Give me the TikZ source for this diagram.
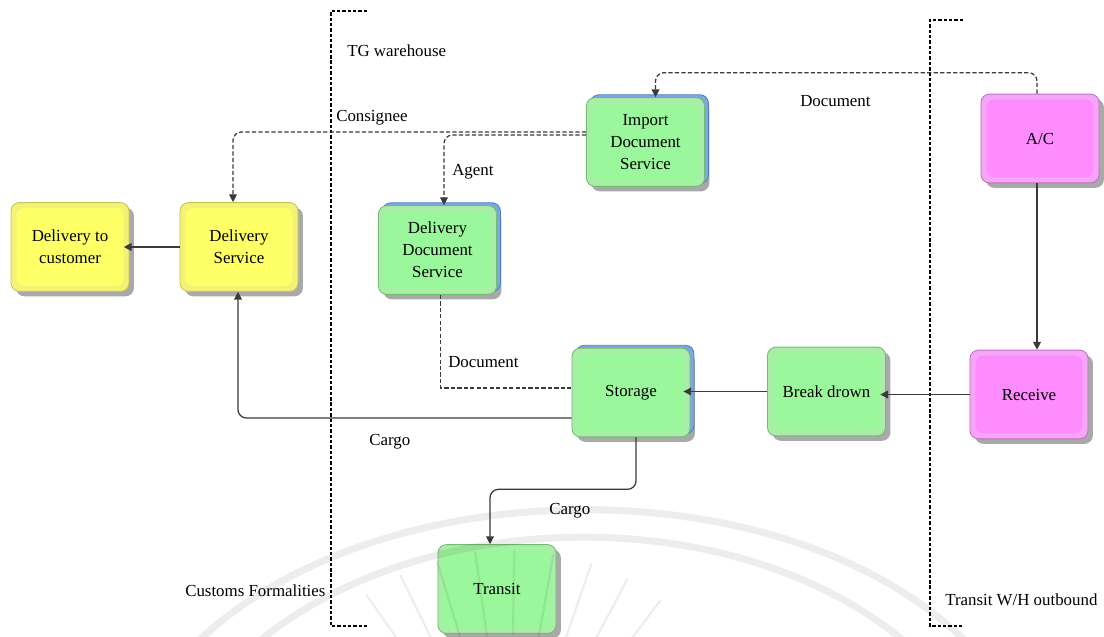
\documentclass[tikz,border=0pt]{standalone}
\usepackage{fontspec}
\setmainfont{Liberation Serif}
\usetikzlibrary{calc,shadows,arrows.meta}

\definecolor{yOut}{HTML}{F2F276}
\definecolor{yIn}{HTML}{FFFF66}
\definecolor{yLine}{HTML}{C4C455}
\definecolor{gOut}{HTML}{A9EDA9}
\definecolor{gIn}{HTML}{9BF79B}
\definecolor{gLine}{HTML}{6DBE6D}
\definecolor{pOut}{HTML}{F6A6F6}
\definecolor{pIn}{HTML}{FF8CFF}
\definecolor{pLine}{HTML}{BE6EBE}
\definecolor{bLayer}{HTML}{7FA6DE}
\definecolor{bLine}{HTML}{4F7FC2}
\definecolor{wire}{HTML}{3A3A3A}

\tikzset{
  procbox/.style n args={3}{
    draw=#3, fill=#1, line width=0.6pt, rounded corners=6pt,
    minimum width=2.95cm, minimum height=2.22cm, inner sep=0pt,
    align=center, font=\fontsize{12}{15.5}\selectfont,
    path picture={
      \fill[#2, rounded corners=5pt]
        ([shift={(4pt,4pt)}]path picture bounding box.south west) rectangle
        ([shift={(-4pt,-4pt)}]path picture bounding box.north east);
    },
    drop shadow={shadow xshift=3.5pt, shadow yshift=-3.5pt, fill=black!45, opacity=0.75}
  },
  yellowbox/.style={procbox={yOut}{yIn}{yLine}},
  greenbox/.style={procbox={gOut}{gIn}{gLine}},
  pinkbox/.style={procbox={pOut}{pIn}{pLine}},
  stackbox/.style={greenbox,
    copy shadow={shadow xshift=2.8pt, shadow yshift=2pt, fill=bLayer, draw=bLine}},
  flow/.style={draw=wire, line width=0.9pt, -{Triangle[length=5.5pt,width=5.5pt]}},
  dflow/.style={draw=wire, line width=0.9pt, dash pattern=on 3pt off 1.6pt,
    -{Triangle[length=5.5pt,width=5.5pt]}},
  dline/.style={draw=wire, line width=0.9pt, dash pattern=on 3pt off 1.6pt},
  zone/.style={draw=black, line width=0.9pt, dash pattern=on 2.4pt off 1.4pt},
  lbl/.style={anchor=base west, inner sep=0pt, font=\fontsize{12}{14}\selectfont},
}

\begin{document}
\begin{tikzpicture}[x=0.025cm, y=-0.025cm]
\useasboundingbox (0,0) rectangle (1104,637);

% zone brackets
\draw[zone] (367,11) -- (331,11) -- (331,626) -- (367,626);
\draw[zone] (963,20) -- (930,20) -- (930,626) -- (962,626);

% process steps
\node[yellowbox] (dc) at (70,247) {Delivery to\\customer};
\node[yellowbox] (ds) at (239,247) {Delivery\\Service};
\node[stackbox]  (dds) at (437.5,250) {Delivery\\Document\\Service};
\node[stackbox]  (ids) at (645.5,142) {Import\\Document\\Service};
\node[pinkbox]   (ac) at (1040,138.5) {A/C};
\node[pinkbox]   (rc) at (1029,394.5) {Receive};
\node[greenbox]  (bd) at (826.5,391.5) {Break drown};
\node[stackbox]  (st) at (631,392.5) {Storage};
\node[greenbox]  (tr) at (497,589) {Transit};

% document flows
\draw[dflow, rounded corners=6pt] ($(ac.north)+(-3,0)$) -- ++(0,-21) -| ($(ids.north)+(10,0)$);
\draw[dflow, rounded corners=6pt] ($(ids.west)+(0,-10)$) -| ($(ds.north)+(-6,0)$);
\draw[dflow, rounded corners=6pt] ($(ids.west)+(0,-7)$) -| ($(dds.north)+(6.5,0)$);
\draw[dline] ($(dds.south)+(3,0)$) |- ($(st.west)+(0,-4.5)$);

% cargo flows
\draw[flow] ($(ac.south)+(-3,0)$) -- ($(rc.north)+(8,0)$);
\draw[flow, shorten >=-4pt] (rc.west) -- (rc.west -| bd.east);
\draw[flow, shorten >=-5pt] (bd.west) -- (bd.west -| st.east);
\draw[flow, rounded corners=6pt] ($(st.west)+(0,25.5)$) -| ($(ds.south)+(-1,0)$);
\coordinate (bend) at ($(st.south)+(5,52)$);
\draw[flow, rounded corners=6pt] ($(st.south)+(5,0)$) -- (bend) -| ($(tr.north)+(-7,0)$);
\draw[flow, shorten >=-4pt] (ds.west) -- (dc.east);

% labels
\node[lbl] (tgw) at (347,57) {TG warehouse};
\node[lbl] (doc1) at (800,106) {Document};
\node[lbl] (cons) at (336,121) {Consignee};
\node[lbl] (agent) at (452,175) {Agent};
\node[lbl] (doc2) at (448,367) {Document};
\node[lbl] (cargo1) at (369,445) {Cargo};
\node[lbl] (cargo2) at (549,514) {Cargo};
\node[lbl] (cust) at (185,596) {Customs Formalities};
\node[lbl] (twh) at (945,605) {Transit W/H outbound};

% faint emblem in the lower part
\begin{scope}[draw=black, opacity=0.07, line width=5pt]
  \draw (150,700) .. controls (300,460) and (820,440) .. (1000,680);
  \draw (190,720) .. controls (330,490) and (790,470) .. (960,700);
  \foreach \a in {55,64,...,127}
    \draw[line width=1.5pt] ($(510,800)+(\a:-165)$) -- ($(510,800)+(\a:-250)$);
\end{scope}
\end{tikzpicture}
\end{document}
